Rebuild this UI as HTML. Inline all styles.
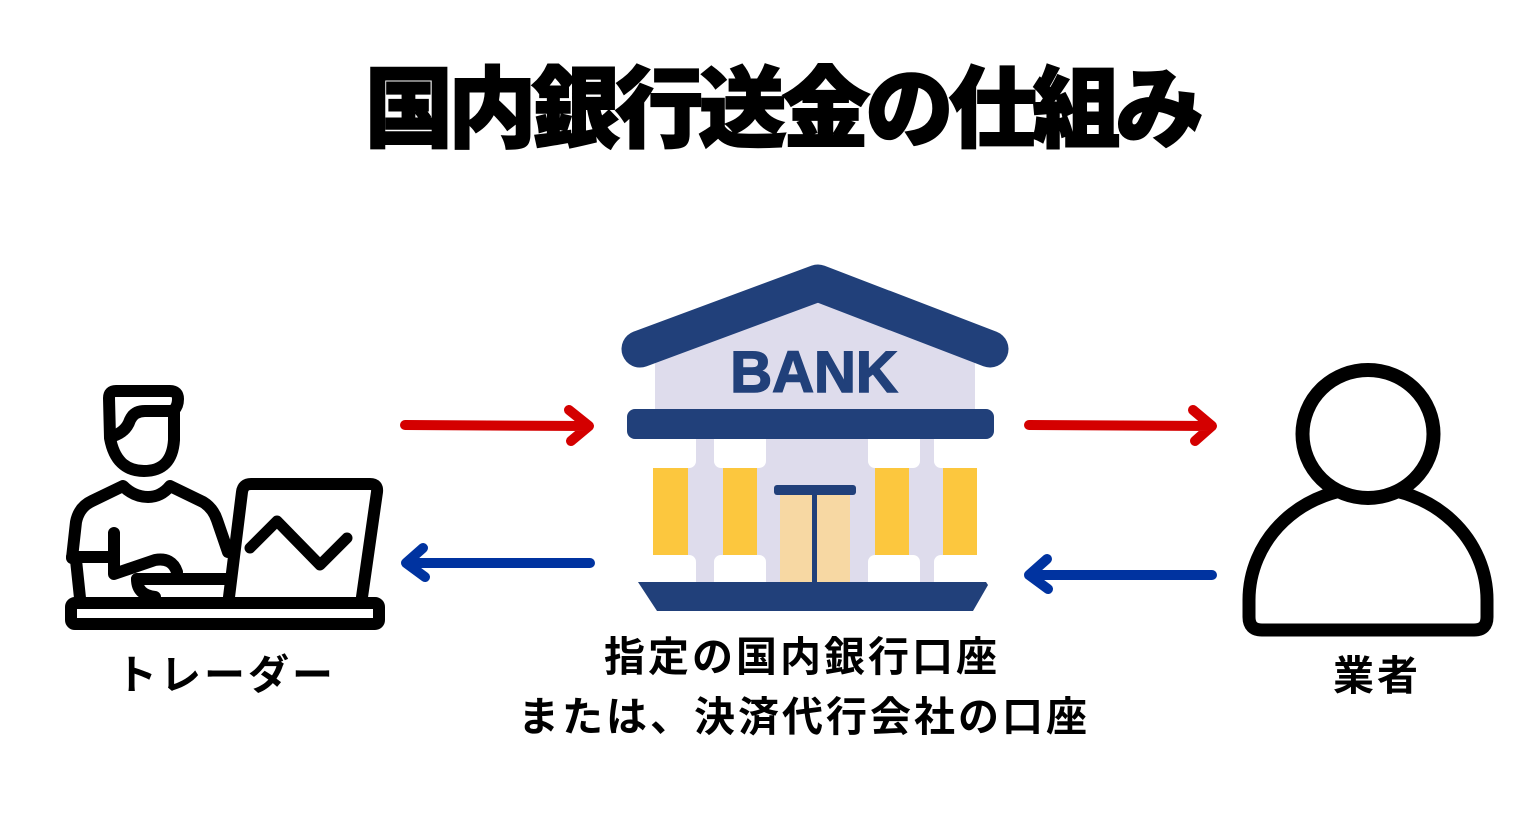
<!DOCTYPE html>
<html>
<head>
<meta charset="utf-8">
<style>
  html,body{margin:0;padding:0;background:#fff;}
  body{width:1540px;height:835px;position:relative;overflow:hidden;}
  .t{position:absolute;white-space:nowrap;font-family:"Liberation Sans","Noto Sans CJK JP",sans-serif;color:#000;}
  #title{left:365px;top:66px;font-size:88px;line-height:88px;font-weight:900;letter-spacing:-4.6px;-webkit-text-stroke:2px #000;}
  .lb{font-size:41px;line-height:41px;font-weight:700;letter-spacing:3px;}
  svg{position:absolute;left:0;top:0;}
</style>
</head>
<body>
<svg width="1540" height="835" viewBox="0 0 1540 835" xmlns="http://www.w3.org/2000/svg">
  <!-- BANK -->
  <polygon points="655,410 655,345 818,290 975,345 975,410" fill="#DEDCEC"/>
  <path d="M640 349 L818 283 L990 349" fill="none" stroke="#21407A" stroke-width="37" stroke-linecap="round" stroke-linejoin="round"/>
  <text x="814" y="392" text-anchor="middle" font-family="Liberation Sans, sans-serif" font-weight="700" font-size="58" fill="#21407A" stroke="#21407A" stroke-width="1.5">BANK</text>
  <rect x="687" y="439" width="258" height="143" fill="#DEDCEC"/>
  <!-- capitals & bases -->
  <rect x="628" y="430" width="68" height="38" rx="7" fill="#fff"/>
  <rect x="714" y="430" width="52" height="38" rx="7" fill="#fff"/>
  <rect x="868" y="430" width="52" height="38" rx="7" fill="#fff"/>
  <rect x="934" y="430" width="68" height="38" rx="7" fill="#fff"/>
  <rect x="628" y="555" width="68" height="35" rx="7" fill="#fff"/>
  <rect x="714" y="555" width="52" height="35" rx="7" fill="#fff"/>
  <rect x="868" y="555" width="52" height="35" rx="7" fill="#fff"/>
  <rect x="934" y="555" width="68" height="35" rx="7" fill="#fff"/>
  <!-- shafts -->
  <rect x="653" y="468" width="35" height="87" fill="#FCC73E"/>
  <rect x="723" y="468" width="34" height="87" fill="#FCC73E"/>
  <rect x="875" y="468" width="34" height="87" fill="#FCC73E"/>
  <rect x="943" y="468" width="34" height="87" fill="#FCC73E"/>
  <!-- door -->
  <rect x="780" y="495" width="70" height="87" fill="#F7D8A3"/>
  <rect x="774" y="485" width="82" height="10" rx="3" fill="#21407A"/>
  <rect x="812" y="493" width="5" height="90" fill="#21407A"/>
  <!-- entablature -->
  <rect x="627" y="409" width="367" height="30" rx="8" fill="#21407A"/>
  <!-- base -->
  <polygon points="638,582 986,582 988,585 973,611 657,611" fill="#21407A"/>

  <!-- Arrows -->
  <g fill="none" stroke-width="10" stroke-linecap="round" stroke-linejoin="round">
    <path d="M405 425 L588 426 M569 410 L589 426 L571 441" stroke="#D40000"/>
    <path d="M1029 425 L1211 426 M1193 410 L1212 426 L1195 441" stroke="#D40000"/>
    <path d="M590 563 L407 563 M423 548 L406 563 L425 577" stroke="#0033A0"/>
    <path d="M1212 575 L1030 575 M1047 559 L1029 575 L1048 589" stroke="#0033A0"/>
  </g>

  <!-- Trader -->
  <g fill="none" stroke="#000" stroke-width="12" stroke-linecap="round" stroke-linejoin="round">
    <path d="M110 438 L109 398 Q109 391 116 391 L170 391 Q178 391 178 399 Q178 406 174 410 L174 440 Q172 471 144 471 Q116 471 110 438 Z"/>
    <path d="M113 436 Q126 432 130 420 Q134 411 145 411 L174 411"/>
    <path d="M72 558 L76 522 Q79 507 92 501 L123 486 Q134 497 148 497 Q161 497 170 486 L203 502 Q213 508 217 520 L228 552"/>
    <path d="M72 557 L110 557"/>
    <path d="M76 560 L80 598"/>
    <path d="M114 533 L114 574 L155 560 Q172 557 177 572"/>
    <path d="M137 579 L227 579"/>
    <path d="M137 579 Q137 595 155 597"/>
    <path d="M229 597 L242 492 Q243 484 251 484 L370 484 Q378 484 377 492 L362 597"/>
    <path d="M250 548 L277 521 L320 565 L347 538" stroke-width="11"/>
    <rect x="71" y="603" width="308" height="21" rx="4"/>
  </g>

  <!-- Business person -->
  <path d="M1249 600 A119 112 0 0 1 1487 600 L1487 617 Q1487 630 1474 630 L1262 630 Q1249 630 1249 617 Z" fill="#fff" stroke="#000" stroke-width="13" stroke-linejoin="round"/>
  <ellipse cx="1368" cy="434" rx="65.5" ry="64" fill="#fff" stroke="#000" stroke-width="14"/>
</svg>

<div class="t" id="title">国内銀行送金の仕組み</div>
<div class="t lb" style="left:604px;top:637px;">指定の国内銀行口座</div>
<div class="t lb" style="left:518px;top:697px;">または、決済代行会社の口座</div>
<div class="t lb" style="left:116px;top:655px;">トレーダー</div>
<div class="t lb" style="left:1333px;top:656px;">業者</div>
</body>
</html>
